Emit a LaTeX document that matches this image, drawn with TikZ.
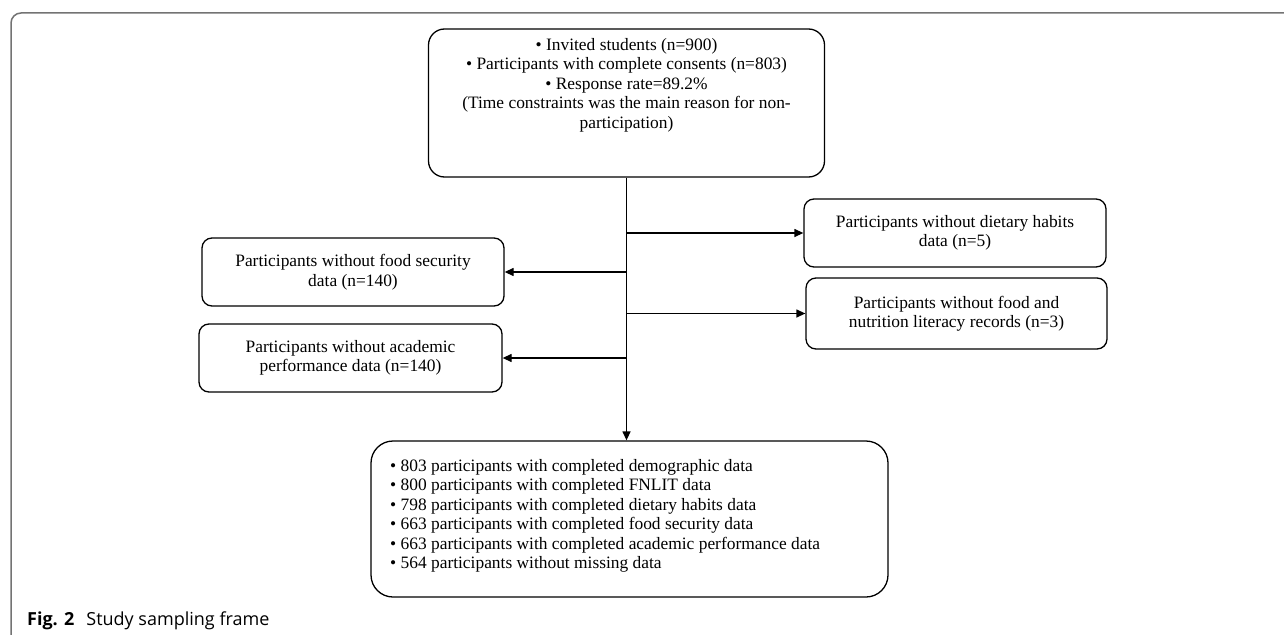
\documentclass[tikz,border=0pt]{standalone}
\usepackage{fontspec}
\setmainfont{Liberation Serif}
\newfontfamily\capfont{Open Sans}
\usetikzlibrary{arrows.meta}
\begin{document}
\begin{tikzpicture}[x=1pt,y=-1pt,
  box/.style={draw, line width=1.3pt, rounded corners=10pt, inner sep=0pt, align=center,
    font=\fontsize{17.4}{19.5}\selectfont},
  txt/.style={inner sep=0pt, align=center, font=\fontsize{17.4}{19.5}\selectfont},
  arr/.style={line width=1.3pt, -{Triangle[length=9pt,width=8pt]}},
  frame/.style={draw=black!55, line width=1.5pt, rounded corners=10pt}]
\useasboundingbox (0,0) rectangle (1284,634);
% outer frame
\draw[frame] (11,640) -- (11,13) -- (1290,13);
% boxes
\node[box, rounded corners=16pt, minimum width=396pt, minimum height=148pt] (top) at (626.5,103) {};
\node[txt, anchor=north] (toptext) at (626.5,38) {%
  • Invited students (n=900)\\
  • Participants with complete consents (n=803)\\
  • Response rate=89.2\%\\
  (Time constraints was the main reason for non-\\
  participation)};
\node[box, minimum width=302pt, minimum height=68pt] (r1) at (955,233)
  {Participants without dietary habits\\ data (n=5)};
\node[box, minimum width=301pt, minimum height=71pt] (r2) at (956.5,313.5)
  {Participants without food and\\ nutrition literacy records (n=3)};
\node[box, minimum width=302pt, minimum height=68pt] (l1) at (353,272)
  {Participants without food security\\ data (n=140)};
\node[box, minimum width=303pt, minimum height=68pt] (l2) at (350.5,358)
  {Participants without academic\\ performance data (n=140)};
\node[box, rounded corners=22pt, minimum width=517pt, minimum height=156pt] (bot) at (629.5,519) {};
\node[txt, align=left, anchor=north west] (bottext) at (390,459) {%
  • 803 participants with completed demographic data\\
  • 800 participants with completed FNLIT data\\
  • 798 participants with completed dietary habits data\\
  • 663 participants with completed food security data\\
  • 663 participants with completed academic performance data\\
  • 564 participants without missing data};
% connectors
\coordinate (trunk) at (top.south);
\draw[arr] (trunk) -- (trunk |- bot.north);
\draw[arr] (trunk |- r1.west) -- (r1.west);
\draw[arr] (trunk |- r2.west) -- (r2.west);
\draw[arr] (trunk |- l1.east) -- (l1.east);
\draw[arr] (trunk |- l2.east) -- (l2.east);
% caption
\node[inner sep=0pt, anchor=base west, font=\capfont\fontsize{18}{20}\selectfont] (cap) at (27,625)
  {\textbf{Fig. 2}\hspace{12pt}Study sampling frame};
\end{tikzpicture}
\end{document}
